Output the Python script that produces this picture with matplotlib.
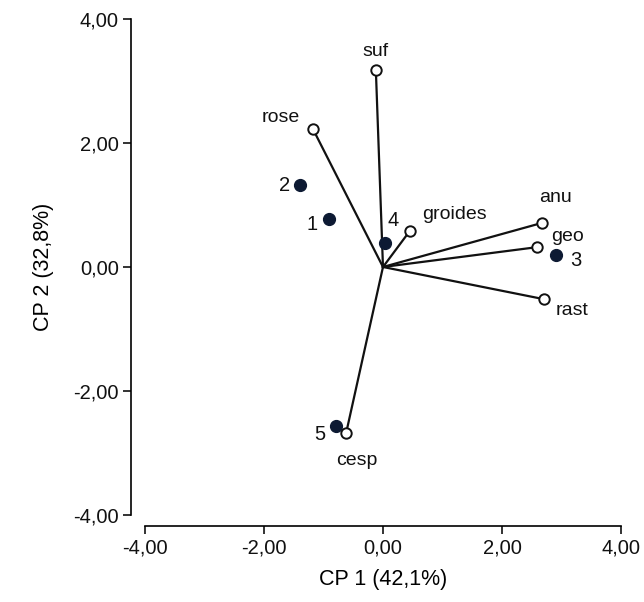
import matplotlib
matplotlib.use("Agg")
import matplotlib.pyplot as plt

plt.rcParams["font.family"] = ["Liberation Sans", "DejaVu Sans"]

# loadings (vectors drawn from origin)
var_names = ["suf", "rose", "groides", "anu", "geo", "rast", "cesp"]
var_x = [-0.12, -1.18, 0.45, 2.67, 2.59, 2.71, -0.62]
var_y = [3.18, 2.23, 0.58, 0.71, 0.32, -0.52, -2.68]

# sample scores
site_names = ["1", "2", "3", "4", "5"]
site_x = [-0.91, -1.39, 2.91, 0.03, -0.79]
site_y = [0.77, 1.32, 0.19, 0.39, -2.56]

ticks = [-4, -2, 0, 2, 4]

# label offsets in points (dx, dy, ha)
var_off = {
    "suf": (0, 13, "center"), "rose": (-9, 8, "right"),
    "groides": (9, 12, "left"), "anu": (-2, 18, "left"),
    "geo": (10, 8, "left"), "rast": (8, -8, "left"),
    "cesp": (-7, -20, "left"),
}
site_off = {
    "1": (-8, -4, "right"), "2": (-7, 0, "right"), "3": (10, -4, "left"),
    "4": (2, 16, "left"), "5": (-8, -6, "right"),
}

fig = plt.figure(figsize=(6.44, 6.02), dpi=100)
ax = fig.add_axes([0.2252, 0.1445, 0.739, 0.824])

for name, x, y in zip(var_names, var_x, var_y):
    ax.plot([0, x], [0, y], color="#111111", lw=1.6, zorder=2)
    ax.plot(x, y, "o", ms=7.5, mfc="white", mec="#111111", mew=1.4, zorder=4)
    dx, dy, ha = var_off[name]
    ax.annotate(name, (x, y), xytext=(dx, dy), textcoords="offset points",
                ha=ha, va="center", fontsize=14, color="#111111")

ax.plot(site_x, site_y, "o", ms=8.5, color="#0d1a33", zorder=3, ls="none")
for name, x, y in zip(site_names, site_x, site_y):
    dx, dy, ha = site_off[name]
    ax.annotate(name, (x, y), xytext=(dx, dy), textcoords="offset points",
                ha=ha, va="center", fontsize=14.5, color="#111111")

ax.set_xlim(-4, 4)
ax.set_ylim(-4, 4)
ax.set_xticks(ticks)
ax.set_yticks(ticks)
ax.set_xticklabels([f"{t:.2f}".replace(".", ",") for t in ticks])
ax.set_yticklabels([f"{t:.2f}".replace(".", ",") for t in ticks])
ax.tick_params(direction="out", length=6, width=1.2, labelsize=14.5,
               colors="#111111", pad=3)

for s in ["top", "right"]:
    ax.spines[s].set_visible(False)
ax.spines["bottom"].set_position(("outward", 8))
ax.spines["left"].set_position(("outward", 10))
for s in ["bottom", "left"]:
    ax.spines[s].set_linewidth(1.2)

ax.set_xlabel("CP 1 (42,1%)", fontsize=15.5, labelpad=8)
ax.set_ylabel("CP 2 (32,8%)", fontsize=15.5, labelpad=14)

fig.savefig("out.png", dpi=100)
